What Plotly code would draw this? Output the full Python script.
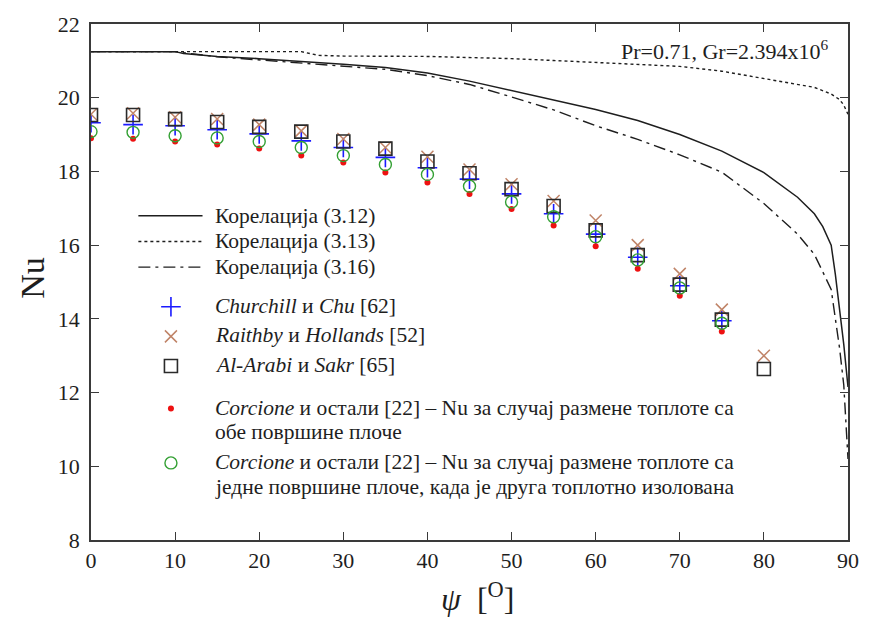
import plotly.graph_objects as go

# ---- data -------------------------------------------------------------
# correlation curves: inclination angle psi [deg] vs Nu
psi_312 = [0, 5, 10, 11, 15, 20, 25, 30, 35, 40, 45, 50, 55, 60, 65, 70, 75, 80, 84, 86, 87, 88, 88.5, 89, 89.5, 90]
nu_312 = [21.25, 21.25, 21.25, 21.2, 21.12, 21.06, 20.99, 20.91, 20.82, 20.67, 20.45, 20.2, 19.95, 19.68,
          19.38, 19.0, 18.55, 17.97, 17.3, 16.85, 16.5, 16.0, 15.2, 14.3, 13.3, 12.15]

psi_313 = [0, 10, 20, 25, 27, 30, 40, 45, 50, 55, 60, 65, 70, 75, 80, 84, 86, 88, 89, 89.5, 90]
nu_313 = [21.25, 21.25, 21.25, 21.25, 21.15, 21.13, 21.12, 21.1, 21.06, 21.01, 20.96, 20.92, 20.85,
          20.72, 20.52, 20.38, 20.28, 20.1, 19.95, 19.8, 19.55]

psi_316 = [0, 5, 10, 15, 20, 25, 30, 35, 40, 45, 50, 55, 60, 65, 70, 75, 80, 84, 86, 88, 88.5, 89, 89.5, 90]
nu_316 = [21.25, 21.25, 21.25, 21.11, 21.02, 20.94, 20.86, 20.77, 20.6, 20.36, 20.02, 19.67, 19.24,
          18.87, 18.45, 17.98, 17.13, 16.3, 15.75, 14.8, 14.0, 13.2, 12.2, 10.2]

# literature correlations / numerical results
psi_pts = [0, 5, 10, 15, 20, 25, 30, 35, 40, 45, 50, 55, 60, 65, 70, 75]
psi_pts_ext = psi_pts + [80]

nu_churchill = [19.32, 19.27, 19.24, 19.13, 19.02, 18.83, 18.65, 18.38, 18.1, 17.79, 17.39, 16.85,
                16.3, 15.67, 14.9, 13.95]
nu_raithby = [19.55, 19.58, 19.47, 19.42, 19.27, 19.1, 18.88, 18.65, 18.4, 18.05, 17.65, 17.2,
              16.67, 16.0, 15.22, 14.25, 13.0]
nu_alarabi = [19.53, 19.53, 19.42, 19.34, 19.21, 19.08, 18.81, 18.62, 18.27, 17.95, 17.52, 17.06,
              16.4, 15.73, 14.93, 13.98, 12.64]
nu_corcione_both = [18.9, 18.89, 18.81, 18.73, 18.62, 18.43, 18.24, 17.97, 17.7, 17.39, 16.98, 16.53,
                    15.97, 15.36, 14.63, 13.66]
nu_corcione_one = [19.08, 19.06, 18.97, 18.91, 18.81, 18.65, 18.43, 18.19, 17.92, 17.6, 17.17, 16.77,
                   16.23, 15.6, 14.84, 13.88]

x_ticks = [0, 10, 20, 30, 40, 50, 60, 70, 80, 90]
y_ticks = [8, 10, 12, 14, 16, 18, 20, 22]

legend_labels = [
    "Корелација (3.12)",
    "Корелација (3.13)",
    "Корелација (3.16)",
    "<i>Churchill</i> и <i>Chu</i> [62]",
    "<i>Raithby</i> и <i>Hollands</i> [52]",
    "<i>Al-Arabi</i> и <i>Sakr</i> [65]",
    "<i>Corcione</i> и остали [22] – Nu за случај размене топлоте са<br>обе површине плоче",
    "<i>Corcione</i> и остали [22] – Nu за случај размене топлоте са<br>једне површине плоче, када је друга топлотно изолована",
]

# ---- styling ----------------------------------------------------------
W, H = 871, 617
ML, MR, MT, MB = 91, 13, 18, 77
PW, PH = W - ML - MR, H - MT - MB
SERIF = "Liberation Serif, Times New Roman, serif"
INK = "#1e1e1e"
KEY_FONT = 21.5
KEY_LINE_GAP = 25

line_styles = [
    dict(color=INK, width=1.5, dash="solid"),
    dict(color=INK, width=1.4, dash="3px,3px"),
    dict(color=INK, width=1.4, dash="12px,5px,3px,5px"),
]
marker_styles = [
    dict(symbol="cross-thin-open", size=14, line=dict(color="#1a1aff", width=1.6), color="#1a1aff"),
    dict(symbol="x-thin-open", size=12, line=dict(color="#c08468", width=1.5), color="#c08468"),
    dict(symbol="square-open", size=13, line=dict(color="#2a2a2a", width=1.6), color="#2a2a2a"),
    dict(symbol="circle", size=6, line=dict(width=0), color="#ee1111"),
    dict(symbol="circle-open", size=12, line=dict(color="#33a033", width=1.4), color="#33a033"),
]


def px_x(px):
    return (px - ML) / PW


def px_y(py):
    return (H - MB - py) / PH


fig = go.Figure()

curves = [(psi_312, nu_312), (psi_313, nu_313), (psi_316, nu_316)]
for (xs, ys), ls, name in zip(curves, line_styles, legend_labels[:3]):
    fig.add_trace(go.Scatter(x=xs, y=ys, mode="lines", line=ls, name=name, showlegend=False))

series = [
    (psi_pts, nu_churchill),
    (psi_pts_ext, nu_raithby),
    (psi_pts_ext, nu_alarabi),
    (psi_pts, nu_corcione_both),
    (psi_pts, nu_corcione_one),
]
for (xs, ys), ms, name in zip(series, marker_styles, legend_labels[3:]):
    fig.add_trace(go.Scatter(x=xs, y=ys, mode="markers", marker=ms, name=name, showlegend=False))

# ---- hand-drawn key (inside the axes, left) ---------------------------
key_line_rows = [212, 238, 264]
key_marker_rows = [304, 334, 364, 407, 462]
key_text_x = 215
annotations = []
shapes = []
for row, ls, label in zip(key_line_rows, line_styles, legend_labels[:3]):
    shapes.append(dict(type="line", xref="paper", yref="paper",
                       x0=px_x(139), x1=px_x(204), y0=px_y(row), y1=px_y(row),
                       line=ls))
    annotations.append(dict(x=px_x(key_text_x), y=px_y(row), xref="paper", yref="paper",
                            text=label, showarrow=False, xanchor="left", yanchor="middle",
                            font=dict(family=SERIF, size=KEY_FONT, color=INK)))

key_x = px_x(172)
for row, ms, label in zip(key_marker_rows, marker_styles, legend_labels[3:]):
    fig.add_trace(go.Scatter(x=[key_x], y=[px_y(row)], xaxis="x2", yaxis="y2",
                             mode="markers", marker=ms, showlegend=False, hoverinfo="skip"))
    lines = label.split("<br>")
    for i, part in enumerate(lines):
        annotations.append(dict(x=px_x(key_text_x), y=px_y(row - 1 + i * KEY_LINE_GAP),
                                xref="paper", yref="paper",
                                text=part, showarrow=False, xanchor="left", yanchor="middle",
                                font=dict(family=SERIF, size=KEY_FONT, color=INK)))

# parameters of the case
annotations.append(dict(x=px_x(841), y=px_y(44), xref="paper", yref="paper",
                        text="Pr=0.71, Gr=2.394x10<sup>6</sup>", showarrow=False,
                        xanchor="right", yanchor="middle",
                        font=dict(family=SERIF, size=22, color=INK)))

# axis titles
annotations.append(dict(x=px_x(31), y=px_y(275), xref="paper", yref="paper",
                        text="Nu", textangle=-90, showarrow=False,
                        xanchor="center", yanchor="middle",
                        font=dict(family=SERIF, size=34, color=INK)))
annotations.append(dict(x=px_x(483), y=px_y(598), xref="paper", yref="paper",
                        text="<i>ψ</i>  [<sup>O</sup>]", showarrow=False,
                        xanchor="center", yanchor="middle",
                        font=dict(family=SERIF, size=32, color=INK)))

axis_common = dict(
    showline=True, linecolor="#3a3a3a", linewidth=1.6, mirror="allticks",
    ticks="inside", ticklen=8, tickwidth=1.4, tickcolor="#3a3a3a",
    showgrid=False, zeroline=False,
    tickfont=dict(family=SERIF, size=22, color=INK),
)

fig.update_layout(
    width=W, height=H,
    margin=dict(l=ML, r=MR, t=MT, b=MB, pad=0),
    paper_bgcolor="white", plot_bgcolor="white",
    showlegend=False,
    font=dict(family=SERIF),
    xaxis=dict(range=[0, 90], tickvals=x_ticks, **axis_common),
    yaxis=dict(range=[8, 22], tickvals=y_ticks, ticklabelstandoff=5, **axis_common),
    xaxis2=dict(range=[0, 1], overlaying="x", visible=False, fixedrange=True),
    yaxis2=dict(range=[0, 1], overlaying="y", visible=False, fixedrange=True),
    annotations=annotations,
    shapes=shapes,
)

fig.write_html("out.html")
